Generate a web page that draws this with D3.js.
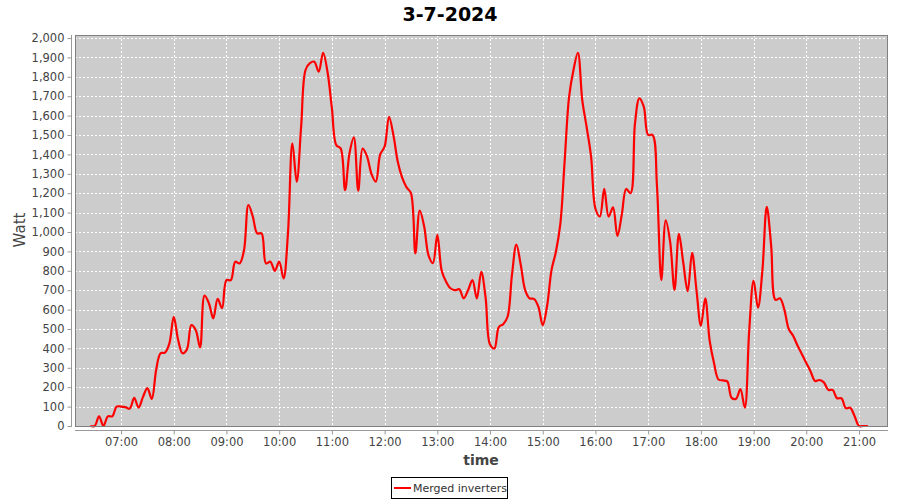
<!DOCTYPE html>
<html><head><meta charset="utf-8">
<script src="https://cdn.jsdelivr.net/npm/d3@7"></script>
<style>body{margin:0;background:#fff}svg{display:block}</style>
</head><body>
<svg id="chart" width="900" height="500"></svg>
<script>
const title = "3-7-2024";
const seriesName = "Merged inverters";
const times = ["06:25","06:30","06:35","06:40","06:45","06:50","06:55","07:00","07:05","07:10","07:15","07:20","07:25","07:30","07:35","07:40","07:45","07:50","07:55","08:00","08:05","08:10","08:15","08:20","08:25","08:30","08:35","08:40","08:45","08:50","08:55","09:00","09:05","09:10","09:15","09:20","09:25","09:30","09:35","09:40","09:45","09:50","09:55","10:00","10:05","10:10","10:15","10:20","10:25","10:30","10:35","10:40","10:45","10:50","10:55","11:00","11:05","11:10","11:15","11:20","11:25","11:30","11:35","11:40","11:45","11:50","11:55","12:00","12:05","12:10","12:15","12:20","12:25","12:30","12:35","12:40","12:45","12:50","12:55","13:00","13:05","13:10","13:15","13:20","13:25","13:30","13:35","13:40","13:45","13:50","13:55","14:00","14:05","14:10","14:15","14:20","14:25","14:30","14:35","14:40","14:45","14:50","14:55","15:00","15:05","15:10","15:15","15:20","15:25","15:30","15:35","15:40","15:45","15:50","15:55","16:00","16:05","16:10","16:15","16:20","16:25","16:30","16:35","16:40","16:45","16:50","16:55","17:00","17:05","17:10","17:15","17:20","17:25","17:30","17:35","17:40","17:45","17:50","17:55","18:00","18:05","18:10","18:15","18:20","18:25","18:30","18:35","18:40","18:45","18:50","18:55","19:00","19:05","19:10","19:15","19:20","19:25","19:30","19:35","19:40","19:45","19:50","19:55","20:00","20:05","20:10","20:15","20:20","20:25","20:30","20:35","20:40","20:45","20:50","20:55","21:00","21:05","21:10"];
const watts = [0,0,50,0,50,50,100,100,97,90,145,95,150,195,140,290,375,378,425,563,443,375,395,520,495,405,672,633,555,655,607,752,752,847,838,907,1139,1079,993,993,838,847,800,847,761,993,1457,1259,1543,1835,1870,1878,1826,1924,1826,1638,1448,1431,1216,1405,1488,1213,1430,1390,1300,1260,1400,1440,1594,1500,1362,1280,1230,1200,890,1110,1030,880,840,985,800,744,710,700,705,658,700,752,658,795,660,420,400,510,525,563,780,935,830,700,658,655,615,520,620,804,898,1040,1370,1697,1835,1924,1680,1540,1390,1120,1080,1222,1079,1127,979,1090,1222,1200,1560,1689,1646,1500,1500,1240,752,1060,950,701,990,840,695,893,700,517,658,440,323,240,235,230,145,140,190,95,490,750,610,800,1130,930,650,658,600,500,465,415,370,325,280,232,237,225,186,186,143,143,92,94,50,0,0,0];
const xTickLabels = ["07:00","08:00","09:00","10:00","11:00","12:00","13:00","14:00","15:00","16:00","17:00","18:00","19:00","20:00","21:00"];
const yTicks = [0,100,200,300,400,500,600,700,800,900,1000,1100,1200,1300,1400,1500,1600,1700,1800,1900,2000];

const toMin = s => { const [h,m] = s.split(":").map(Number); return h*60+m; };
const data = times.map((t,i) => ({t: toMin(t), v: watts[i]}));

const svg = d3.select("#chart");
const L = 75, R = 888, T = 35, B = 426;
const FONT = "'DejaVu Sans', sans-serif";

const x = d3.scaleLinear().domain([367.6, 1293]).range([L, R]);
const y = d3.scaleLinear().domain([0, 2000]).range([B, 38]);

// plot background
svg.append("rect").attr("x", L).attr("y", T).attr("width", R-L).attr("height", B-T)
  .attr("fill", "#cccccc");

// gridlines
const grid = svg.append("g").attr("stroke", "#ffffff").attr("stroke-width", 1).attr("stroke-dasharray", "2,2");
xTickLabels.forEach(s => {
  const px = Math.round(x(toMin(s))) + 0.5;
  grid.append("line").attr("x1", px).attr("x2", px).attr("y1", T).attr("y2", B);
});
yTicks.forEach(v => {
  const py = Math.round(y(v)) + 0.5;
  grid.append("line").attr("x1", L).attr("x2", R).attr("y1", py).attr("y2", py);
});

// line
const line = d3.line().x(d => x(d.t)).y(d => y(d.v)).curve(d3.curveCatmullRom.alpha(0.5));
svg.append("path").datum(data).attr("d", line).attr("fill", "none")
  .attr("stroke", "#ff0000").attr("stroke-width", 2.2).attr("stroke-linejoin", "round");

// plot border
svg.append("rect").attr("x", L+0.5).attr("y", T+0.5).attr("width", R-L-1).attr("height", B-T)
  .attr("fill", "none").attr("stroke", "#808080").attr("stroke-width", 1);

// y axis
const yAxis = d3.axisLeft(y).tickValues(yTicks).tickSize(4).tickPadding(3)
  .tickFormat(d3.format(","));
const gy = svg.append("g").attr("transform", "translate(71.5,0)").call(yAxis);
gy.select(".domain").attr("stroke", "#999999").attr("d", `M0,${T}V${B+1}`);
gy.selectAll(".tick line").attr("stroke", "#999999");
gy.selectAll("text").attr("fill", "#444444").style("font-family", FONT).style("font-size", "11.5px");

// x axis
const xAxis = d3.axisBottom(x).tickValues(xTickLabels.map(toMin)).tickSize(4).tickPadding(3)
  .tickFormat((d,i) => xTickLabels[i]);
const gx = svg.append("g").attr("transform", "translate(0,430.5)").call(xAxis);
gx.select(".domain").attr("stroke", "#999999").attr("d", `M${L},0H${R}`);
gx.selectAll(".tick line").attr("stroke", "#999999");
gx.selectAll("text").attr("fill", "#444444").style("font-family", FONT).style("font-size", "11.5px");

// title
svg.append("text").attr("x", 450).attr("y", 21).attr("text-anchor", "middle")
  .style("font-family", FONT).style("font-weight", "bold").style("font-size", "19px")
  .attr("fill", "#000").text(title);

// axis labels
svg.append("text").attr("x", 481).attr("y", 465).attr("text-anchor", "middle")
  .style("font-family", FONT).style("font-weight", "bold").style("font-size", "14px")
  .attr("fill", "#444444").text("time");
svg.append("text").attr("transform", "translate(25,230) rotate(-90)").attr("text-anchor", "middle")
  .style("font-family", FONT).style("font-size", "15px")
  .attr("fill", "#444444").text("Watt");

// legend
const lg = svg.append("g");
lg.append("rect").attr("x", 391.5).attr("y", 477.5).attr("width", 116).attr("height", 21)
  .attr("fill", "#fff").attr("stroke", "#000").attr("stroke-width", 1);
lg.append("line").attr("x1", 394).attr("x2", 411).attr("y1", 488).attr("y2", 488)
  .attr("stroke", "#ff0000").attr("stroke-width", 2);
lg.append("text").attr("x", 413).attr("y", 492)
  .style("font-family", FONT).style("font-size", "11px").attr("fill", "#333").text(seriesName);
</script>
</body></html>
